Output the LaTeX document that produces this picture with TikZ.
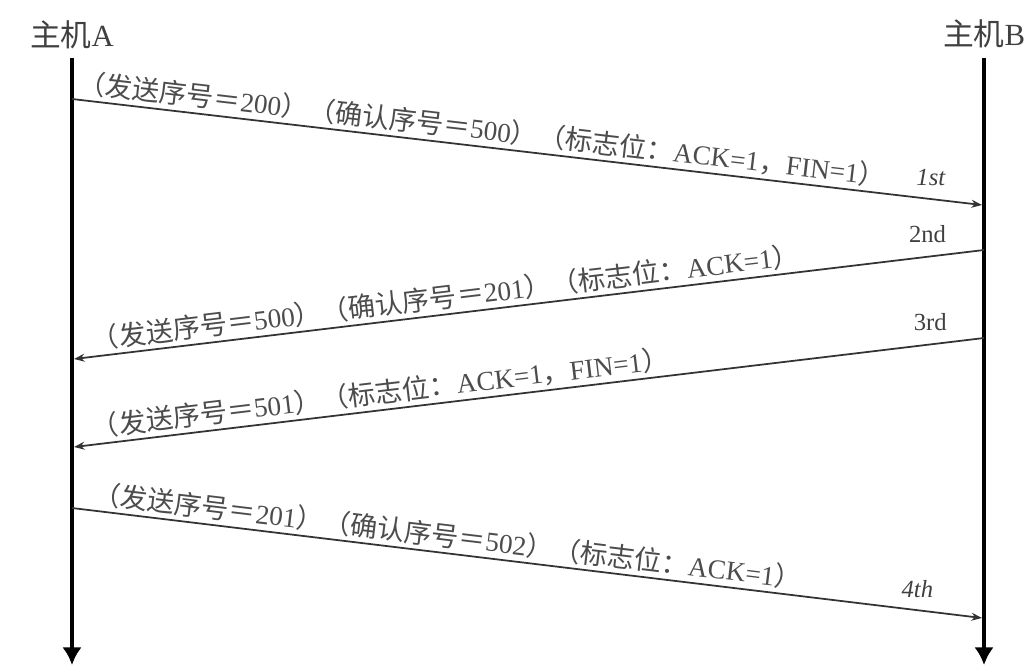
\documentclass[tikz,border=0pt]{standalone}
\usepackage{fontspec}
\setmainfont{Liberation Serif}
\newfontfamily\cjk{Noto Sans CJK SC}
\usetikzlibrary{arrows.meta}
\newcommand{\zh}[1]{{\cjk #1}}

\begin{document}
\begin{tikzpicture}[x=0.02cm, y=0.02cm,
  host/.style={font=\fontsize{17.5}{20}\selectfont, text=black!75},
  axis/.style={-{Latex[length=10pt,width=11pt]}, line width=2.6pt},
  msg/.style={line width=1pt, draw=black!80},
  tag/.style={font=\fontsize{15.5}{18}\selectfont, text=black!70, sloped, anchor=south west, inner sep=2pt},
  order/.style={font=\fontsize{14}{16}\selectfont, text=black!75}]
\useasboundingbox (0,0) rectangle (1030,667);
\node[host] (hostA) at (72,632) {\zh{主机}A};
\node[host] (hostB) at (984,633) {\zh{主机}B};
\coordinate (A0) at (72,609);
\coordinate (A9) at (72,2);
\coordinate (B0) at (984,609);
\coordinate (B9) at (984,2);
\draw [axis] (A0) -- (A9);
\draw [axis] (B0) -- (B9);
\coordinate (a1) at (72,568);
\coordinate (b1) at (982,462);
\coordinate (a2) at (74,308);
\coordinate (b2) at (984,417);
\coordinate (a3) at (74,220);
\coordinate (b3) at (984,329);
\coordinate (a4) at (72,159);
\coordinate (b4) at (982,49);
\draw [msg, -{Stealth[length=6pt,width=4.5pt]}] (a1) -- (b1)
  node [tag, pos=0] {\zh{（发送序号＝}200\zh{）（确认序号＝}500\zh{）（标志位：}ACK=1\zh{，}FIN=1\zh{）}}
  node [order, pos=0.944, above=4pt] {\textit{1st}};
\draw [msg, {Stealth[length=6pt,width=4.5pt]}-] (a2) -- (b2)
  node [tag, pos=0.017] {\zh{（发送序号＝}500\zh{）（确认序号＝}201\zh{）（标志位：}ACK=1\zh{）}}
  node [order, pos=0.938, above=4pt] {2nd};
\draw [msg, {Stealth[length=6pt,width=4.5pt]}-] (a3) -- (b3)
  node [tag, pos=0.017] {\zh{（发送序号＝}501\zh{）（标志位：}ACK=1\zh{，}FIN=1\zh{）}}
  node [order, pos=0.941, above=4pt] {3rd};
\draw [msg, -{Stealth[length=6pt,width=4.5pt]}] (a4) -- (b4)
  node [tag, pos=0.017] {\zh{（发送序号＝}201\zh{）（确认序号＝}502\zh{）（标志位：}ACK=1\zh{）}}
  node [order, pos=0.929, above=3pt] {\textit{4th}};
\end{tikzpicture}
\end{document}
